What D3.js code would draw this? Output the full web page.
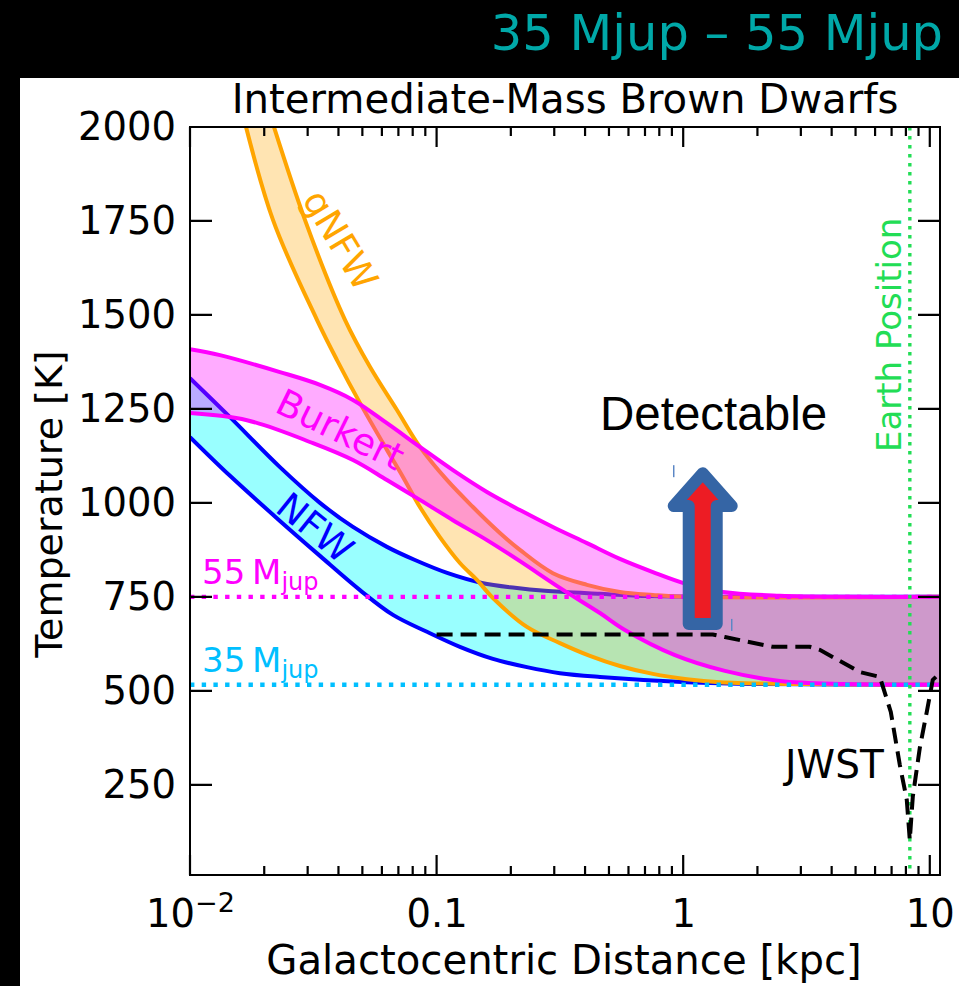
<!DOCTYPE html>
<html>
<head>
<meta charset="utf-8">
<script src="https://cdn.jsdelivr.net/npm/d3@7"></script>
<style>
  body { margin: 0; background: #000; }
  svg { display: block; }
</style>
</head>
<body>
<div id="chart"></div>
<script>
// NFW band (upper / lower edge), r in kpc, T in K
var nfwUpperR = [0.01, 0.01453, 0.02316, 0.03365, 0.04579, 0.0629, 0.08171, 0.1111, 0.1527, 0.2078, 0.275, 0.4595, 0.7327, 1.408, 3, 11];
var nfwUpperT = [1332, 1228, 1095, 1000, 936, 883, 848, 813, 787, 774, 766, 758, 752, 750, 750, 750];
var nfwLowerR = [0.01, 0.01453, 0.02316, 0.03365, 0.04888, 0.06653, 0.09137, 0.1243, 0.1692, 0.2324, 0.3162, 0.4595, 1.035, 2.046, 11];
var nfwLowerT = [1175, 1072, 952, 859, 768, 702, 657, 617, 585, 563, 547, 537, 523, 518, 516];

// gNFW band
var gnfwUpperR = [0.02052, 0.02925, 0.04251, 0.05366, 0.06906, 0.08557, 0.1101, 0.1404, 0.1806, 0.2177, 0.2962, 0.407, 0.5537, 0.7535, 1.035, 11];
var gnfwUpperT = [2059, 1753, 1487, 1362, 1247, 1149, 1061, 989, 920, 875, 813, 782, 763, 755, 750, 750];
var gnfwLowerR = [0.01595, 0.0217, 0.03272, 0.03945, 0.04888, 0.0629, 0.07304, 0.08557, 0.1031, 0.1243, 0.1457, 0.1692, 0.2324, 0.3162, 0.4184, 0.5537, 0.7535, 1.035, 1.408, 2.972, 11];
var gnfwLowerT = [2064, 1753, 1487, 1380, 1266, 1141, 1069, 989, 909, 840, 795, 747, 670, 627, 593, 566, 545, 531, 523, 518, 516];

// Burkert band
var burkUpperR = [0.01, 0.01323, 0.02316, 0.03365, 0.04579, 0.0629, 0.08557, 0.1165, 0.16, 0.2177, 0.2962, 0.407, 0.5537, 0.7535, 1.035, 1.448, 2.466, 4.739, 11];
var burkUpperT = [1409, 1393, 1348, 1314, 1274, 1212, 1149, 1087, 1029, 981, 936, 893, 851, 816, 784, 763, 753, 750, 750];
var burkLowerR = [0.01, 0.01702, 0.03153, 0.04579, 0.0629, 0.08557, 0.1165, 0.16, 0.2177, 0.3162, 0.4595, 0.5801, 0.9258, 1.476, 2.466, 4.609, 11];
var burkLowerT = [1239, 1220, 1159, 1114, 1061, 1008, 954, 901, 845, 774, 707, 662, 595, 553, 526, 518, 516];

// JWST sensitivity (dashed)
var jwstR = [0.1, 1.319, 1.476, 2.31, 3.263, 3.581, 5.203, 6.27, 6.948, 7.558, 8.066, 8.296, 8.532, 9.109, 9.723, 10.28, 10.98];
var jwstT = [650, 650, 643, 617, 617, 609, 550, 537, 444, 303, 210, 103, 218, 348, 444, 529, 547];

// reference lines
var mass55T = 750;
var mass35T = 516;
var earthR = 8.3;

// tick labels
var xMajor = [0.01, 0.1, 1, 10];
var xMajorLabels = ['10', '0.1', '1', '10'];
var yMajor = [250, 500, 750, 1000, 1250, 1500, 1750, 2000];

// arrow annotation (kpc, K)
var arrowR = 1.2;
var arrowTipT = 1079;
var arrowHeadT = 992;
var arrowBaseT = 678;

function pairs(rs, ts){
    return rs.map(function(r, i){ return [r, ts[i]]; });
}

function init(){
    var W = 959, H = 986;
    var left = 190, right = 940, top = 127, bottom = 875;
    var font = "'DejaVu Sans', sans-serif";

    var svg = d3.select('#chart')
                .append('svg')
                .attr('width', W)
                .attr('height', H);

    // black page with a white figure panel
    svg.append('rect').attr('width', W).attr('height', H).attr('fill', '#000');
    svg.append('rect').attr('x', 20).attr('y', 78).attr('width', W - 20).attr('height', H - 78).attr('fill', '#fff');

    svg.append('text')
        .attr('x', 943).attr('y', 50)
        .attr('text-anchor', 'end')
        .attr('font-family', font).attr('font-size', 49.5)
        .attr('fill', '#00a8a8')
        .text('35 Mjup \u2013 55 Mjup');

    var xScale = d3.scaleLog().domain([0.01, 11]).range([left, right]);
    var yScale = d3.scaleLinear().domain([10, 2000]).range([bottom, top]);

    svg.append('clipPath').attr('id', 'plotclip')
        .append('rect')
        .attr('x', left).attr('y', top)
        .attr('width', right - left).attr('height', bottom - top);

    var plot = svg.append('g').attr('clip-path', 'url(#plotclip)');

    var line = d3.line()
                .x(function(d){ return xScale(d[0]); })
                .y(function(d){ return yScale(d[1]); })
                .curve(d3.curveCatmullRom.alpha(0.5));

    // closed band between two edges
    function band(upper, lower){
        var a = line(upper);
        var b = line(lower.slice().reverse());
        return a + 'L' + b.slice(1) + 'Z';
    }

    var bands = [
        {up: pairs(nfwUpperR, nfwUpperT), lo: pairs(nfwLowerR, nfwLowerT), fill: '#00ffff', alpha: 0.4, stroke: '#0000ff'},
        {up: pairs(gnfwUpperR, gnfwUpperT), lo: pairs(gnfwLowerR, gnfwLowerT), fill: '#ffa500', alpha: 0.3, stroke: '#ffa500'},
        {up: pairs(burkUpperR, burkUpperT), lo: pairs(burkLowerR, burkLowerT), fill: '#ff00ff', alpha: 0.33, stroke: '#ff00ff'}
    ];

    bands.forEach(function(b){
        plot.append('path')
            .attr('d', band(b.up, b.lo))
            .attr('fill', b.fill)
            .attr('fill-opacity', b.alpha)
            .attr('stroke', 'none');
        [b.up, b.lo].forEach(function(edge){
            plot.append('path')
                .attr('d', line(edge))
                .attr('fill', 'none')
                .attr('stroke', b.stroke)
                .attr('stroke-width', 4);
        });
    });

    // mass reference lines (dotted)
    plot.append('line')
        .attr('x1', left).attr('x2', right)
        .attr('y1', yScale(mass55T)).attr('y2', yScale(mass55T))
        .attr('stroke', '#ff00ff').attr('stroke-width', 4.4)
        .attr('stroke-dasharray', '4.4,7.3');
    plot.append('line')
        .attr('x1', left).attr('x2', right)
        .attr('y1', yScale(mass35T)).attr('y2', yScale(mass35T))
        .attr('stroke', '#00bfff').attr('stroke-width', 4.4)
        .attr('stroke-dasharray', '4.4,7.3');

    // Earth position
    plot.append('line')
        .attr('x1', xScale(earthR)).attr('x2', xScale(earthR))
        .attr('y1', top).attr('y2', bottom)
        .attr('stroke', '#22dd55').attr('stroke-width', 3.4)
        .attr('stroke-dasharray', '3.4,5.6');

    // JWST curve
    plot.append('path')
        .attr('d', d3.line()
                    .x(function(d){ return xScale(d[0]); })
                    .y(function(d){ return yScale(d[1]); })(pairs(jwstR, jwstT)))
        .attr('fill', 'none')
        .attr('stroke', '#000').attr('stroke-width', 4)
        .attr('stroke-dasharray', '16,8');

    // band labels
    var labels = [
        {t: 'gNFW', r: 0.0406, T: 1699, rot: 59, c: '#ffa500'},
        {t: 'Burkert', r: 0.0406, T: 1194, rot: 26, c: '#ff00ff'},
        {t: 'NFW', r: 0.0321, T: 933, rot: 39, c: '#0000ff'}
    ];
    labels.forEach(function(l){
        svg.append('text')
            .attr('transform', 'translate(' + xScale(l.r) + ',' + yScale(l.T) + ') rotate(' + l.rot + ')')
            .attr('text-anchor', 'middle')
            .attr('dominant-baseline', 'central')
            .attr('font-family', font).attr('font-size', 37)
            .attr('fill', l.c)
            .text(l.t);
    });

    // mass labels
    [[mass55T, '55', '#ff00ff'], [mass35T, '35', '#00bfff']].forEach(function(m){
        var t = svg.append('text')
            .attr('x', left + 12).attr('y', yScale(m[0]) - 13)
            .attr('font-family', font).attr('font-size', 34)
            .attr('fill', m[2]);
        t.append('tspan').text(m[1] + '\u2009M');
        t.append('tspan').attr('font-size', 24).attr('dy', 6).text('jup');
    });

    svg.append('text')
        .attr('transform', 'translate(' + (xScale(earthR) - 9) + ',' + yScale(1447) + ') rotate(-90)')
        .attr('text-anchor', 'middle')
        .attr('font-family', font).attr('font-size', 34)
        .attr('fill', '#22dd55')
        .text('Earth Position');

    svg.append('text')
        .attr('x', xScale(0.46)).attr('y', yScale(1194))
        .attr('font-family', "'Liberation Sans', Arial, sans-serif").attr('font-size', 47.5)
        .attr('fill', '#000')
        .text('Detectable');

    svg.append('text')
        .attr('x', xScale(2.59)).attr('y', yScale(268))
        .attr('font-family', font).attr('font-size', 39)
        .attr('fill', '#000')
        .text('JWST');

    // up arrow
    var cx = xScale(arrowR), yt = yScale(arrowTipT), yh = yScale(arrowHeadT), yb = yScale(arrowBaseT);
    var arrowPts = [[cx, yt], [cx - 29, yh], [cx - 14, yh], [cx - 14, yb], [cx + 14, yb], [cx + 14, yh], [cx + 29, yh]];
    svg.append('polygon')
        .attr('points', arrowPts.map(function(p){ return p.join(','); }).join(' '))
        .attr('fill', '#ed1c24')
        .attr('stroke', '#3565a5').attr('stroke-width', 12)
        .attr('stroke-linejoin', 'round');
    svg.append('line')
        .attr('x1', cx - 29).attr('x2', cx - 29).attr('y1', yt - 8).attr('y2', yt + 4)
        .attr('stroke', '#5b87c5').attr('stroke-width', 1.5);
    svg.append('line')
        .attr('x1', cx + 29).attr('x2', cx + 29).attr('y1', yb - 5).attr('y2', yb + 7)
        .attr('stroke', '#5b87c5').attr('stroke-width', 1.5);

    // minor log ticks
    var xMinor = [];
    [0.01, 0.1, 1].forEach(function(dec){
        for (var k = 2; k <= 9; k++) xMinor.push(k * dec);
    });

    // inward tick marks on all four sides, one path
    var d = '';
    xMajor.forEach(function(v){
        var px = xScale(v);
        d += 'M' + px + ',' + bottom + 'V' + (bottom - 20);
        d += 'M' + px + ',' + top + 'V' + (top + 20);
    });
    xMinor.forEach(function(v){
        var px = xScale(v);
        d += 'M' + px + ',' + bottom + 'V' + (bottom - 9);
        d += 'M' + px + ',' + top + 'V' + (top + 9);
    });
    yMajor.forEach(function(v){
        var py = yScale(v);
        d += 'M' + left + ',' + py + 'H' + (left + 22);
        d += 'M' + right + ',' + py + 'H' + (right - 22);
    });
    svg.append('path')
        .attr('d', d)
        .attr('fill', 'none')
        .attr('stroke', '#000')
        .attr('stroke-width', 2.2);

    // tick labels through d3 axes
    function styleAxis(g){
        g.select('.domain').remove();
        g.selectAll('.tick line').remove();
        g.attr('font-family', font).attr('font-size', 38.5);
        g.selectAll('.tick text').attr('fill', '#000');
    }

    var gx = svg.append('g')
        .attr('transform', 'translate(0,' + bottom + ')')
        .call(d3.axisBottom(xScale).tickValues(xMajor).tickSize(0).tickPadding(25)
              .tickFormat(function(d, i){ return xMajorLabels[i]; }))
        .call(styleAxis);
    // 10^-2 label with superscript
    gx.selectAll('.tick text').filter(function(d){ return d === 0.01; })
        .each(function(){
            var t = d3.select(this);
            t.text('');
            t.append('tspan').text('10');
            t.append('tspan').attr('font-size', 27).attr('dy', -15).text('\u22122');
        });
    svg.append('g')
        .attr('transform', 'translate(' + left + ',0)')
        .call(d3.axisLeft(yScale).tickValues(yMajor).tickSize(0).tickPadding(14).tickFormat(d3.format('d')))
        .call(styleAxis);

    // frame
    svg.append('rect')
        .attr('x', left).attr('y', top)
        .attr('width', right - left).attr('height', bottom - top)
        .attr('fill', 'none').attr('stroke', '#000').attr('stroke-width', 2);

    // titles
    svg.append('text')
        .attr('x', (left + right) / 2).attr('y', 113)
        .attr('text-anchor', 'middle')
        .attr('font-family', font).attr('font-size', 40.2)
        .attr('fill', '#000')
        .text('Intermediate-Mass Brown Dwarfs');

    svg.append('text')
        .attr('x', (left + right) / 2 - 1).attr('y', 974)
        .attr('text-anchor', 'middle')
        .attr('font-family', font).attr('font-size', 40.2)
        .attr('fill', '#000')
        .text('Galactocentric Distance [kpc]');

    svg.append('text')
        .attr('transform', 'translate(62,' + ((top + bottom) / 2 + 3) + ') rotate(-90)')
        .attr('text-anchor', 'middle')
        .attr('font-family', font).attr('font-size', 38)
        .attr('fill', '#000')
        .text('Temperature [K]');
}

window.onload = init;
</script>
</body>
</html>
